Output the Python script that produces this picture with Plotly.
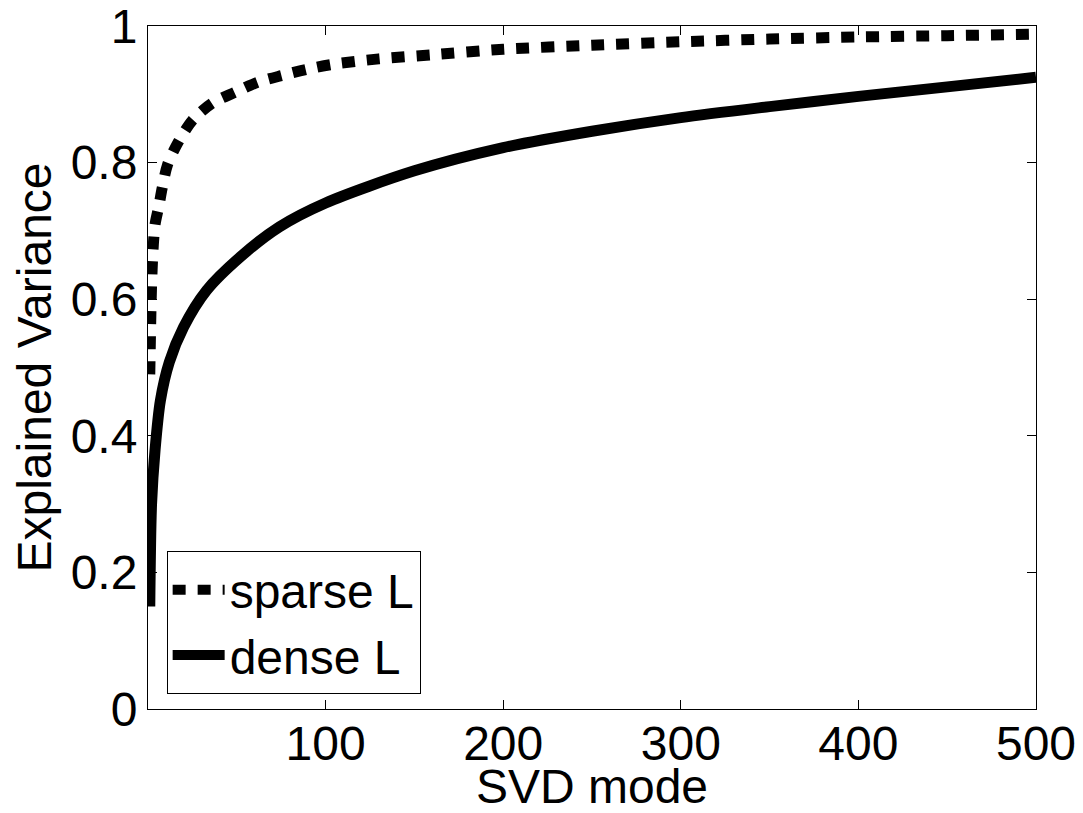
import plotly.graph_objects as go

# SVD mode index and explained variance, sparse L
sparse_modes = [1, 2, 3, 4, 6, 8, 11, 17, 25, 36, 49, 62, 76, 90, 104, 130, 160, 200, 250, 300, 350, 400, 450, 500]
sparse_vals = [0.49, 0.62, 0.68, 0.71, 0.735, 0.763, 0.797, 0.83, 0.862, 0.887, 0.903, 0.918, 0.928, 0.937,
               0.944, 0.952, 0.958, 0.966, 0.972, 0.977, 0.981, 0.984, 0.986, 0.988]
# SVD mode index and explained variance, dense L
dense_modes = [1, 2, 4, 7, 12, 20, 33, 52, 74, 100, 150, 200, 250, 300, 350, 400, 450, 500]
dense_vals = [0.15, 0.30, 0.38, 0.452, 0.508, 0.559, 0.613, 0.662, 0.706, 0.741, 0.788, 0.822, 0.846, 0.866,
              0.882, 0.897, 0.911, 0.925]

x_ticks = [100, 200, 300, 400, 500]
y_ticks = [0, 0.2, 0.4, 0.6, 0.8, 1]
y_tick_labels = ["0", "0.2", "0.4", "0.6", "0.8", "1"]

FONT = "Liberation Sans, Arial, Helvetica, sans-serif"

fig = go.Figure()
fig.add_trace(go.Scatter(
    x=sparse_modes, y=sparse_vals, mode="lines", name="sparse L",
    line=dict(color="black", width=11, dash="13px,12px", shape="spline", smoothing=0.8),
))
fig.add_trace(go.Scatter(
    x=dense_modes, y=dense_vals, mode="lines", name="dense L",
    line=dict(color="black", width=11, shape="spline", smoothing=0.8),
))

axis_common = dict(
    showgrid=False, zeroline=False, showline=True, linecolor="black", linewidth=1,
    mirror="ticks", ticks="inside", ticklen=9, tickwidth=1, tickcolor="black",
    tickfont=dict(family=FONT, size=48, color="black"), automargin=False,
    ticklabeloverflow="allow",
)

# page body has an 8px margin; the figure is offset by it inside the 1083x813 window
fig.update_layout(
    width=1075, height=805,
    margin=dict(l=140, r=47, t=18, b=104),
    paper_bgcolor="white", plot_bgcolor="white",
    font=dict(family=FONT, size=48, color="black"),
    xaxis=dict(range=[0, 500], tickvals=x_ticks, ticklabelstandoff=-8,
               title=dict(text="SVD mode", font=dict(family=FONT, size=48), standoff=12),
               **axis_common),
    yaxis=dict(range=[0, 1.0001], tickvals=y_ticks, ticktext=y_tick_labels,
               title=dict(text="Explained Variance", font=dict(family=FONT, size=48), standoff=4),
               **axis_common),
    legend=dict(x=0.021, y=0.022, xanchor="left", yanchor="bottom",
                bgcolor="white", bordercolor="black", borderwidth=1,
                font=dict(family=FONT, size=48), tracegroupgap=0, itemwidth=52),
    showlegend=True,
)

fig.write_html("out.html")
